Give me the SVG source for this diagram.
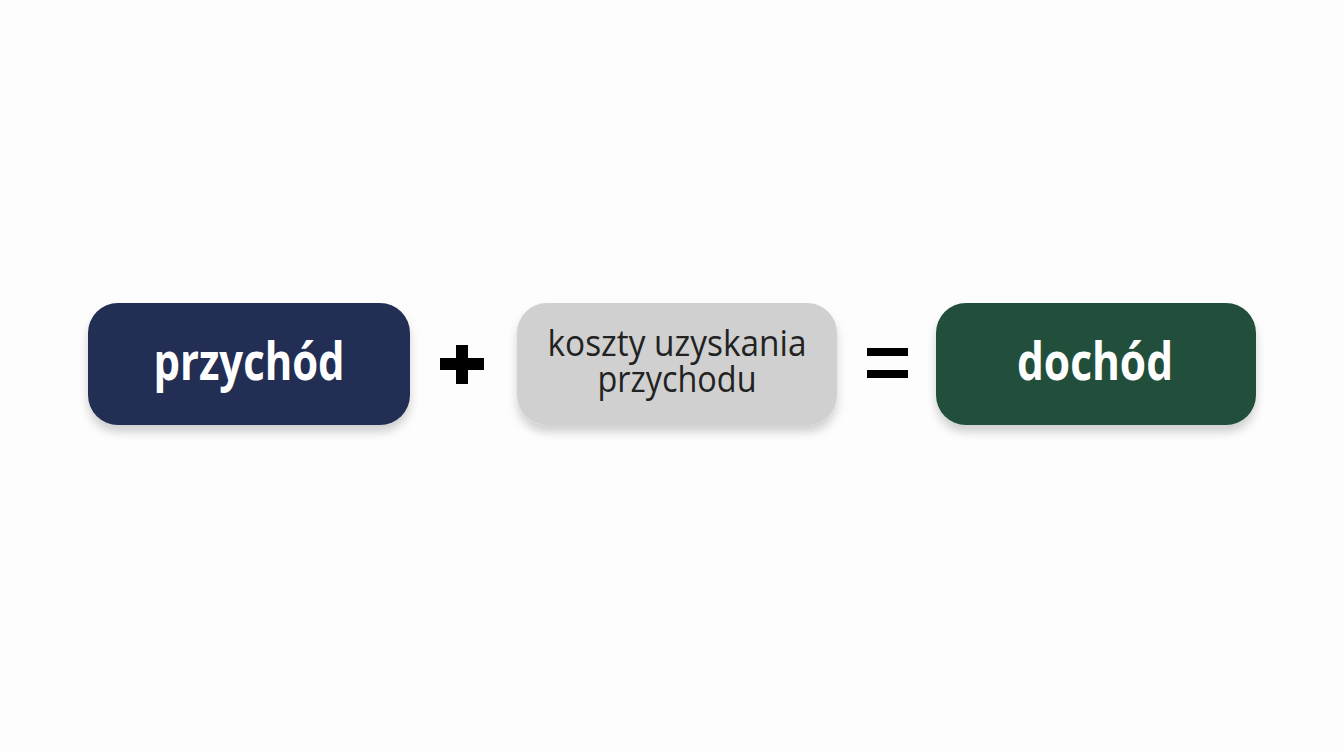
<svg xmlns="http://www.w3.org/2000/svg" width="1344" height="752" viewBox="0 0 1344 752">
<style>
.box{filter:url(#sh)}
.t{font-family:"Open Sans","Noto Sans","Liberation Sans",sans-serif;text-anchor:middle}
.w{fill:#ffffff;font-weight:700;font-size:52px}
.d{fill:#222222;font-size:36px}
.op{fill:#000000}
</style>
<defs>
<filter id="sh" x="-10%" y="-20%" width="120%" height="150%">
<feDropShadow dx="0" dy="7" stdDeviation="5" flood-color="#000" flood-opacity="0.18"/>
</filter>
</defs>
<rect width="1344" height="752" fill="#fdfdfd"/>
<g id="przychod">
<rect class="box" x="88" y="303" width="322" height="122" rx="30" fill="#232D52"/>
<text class="t w" x="249" y="380" textLength="191" lengthAdjust="spacingAndGlyphs">przychód</text>
</g>
<g id="koszty">
<rect class="box" x="517" y="303" width="320" height="122" rx="30" fill="#D0D0D0"/>
<text class="t d"><tspan x="677" y="356" textLength="259" lengthAdjust="spacingAndGlyphs">koszty uzyskania</tspan><tspan x="677" y="392" textLength="159" lengthAdjust="spacingAndGlyphs">przychodu</tspan></text>
</g>
<g id="dochod">
<rect class="box" x="936" y="303" width="320" height="122" rx="30" fill="#23503A"/>
<text class="t w" x="1095" y="380" textLength="156" lengthAdjust="spacingAndGlyphs">dochód</text>
</g>
<g id="connectors">
<path class="op" d="M456 345h12v13h16v12h-16v14h-12v-14h-16v-12h16z"/>
<rect class="op" x="867" y="348" width="41" height="8"/>
<rect class="op" x="867" y="370" width="41" height="8"/>
</g>
</svg>
